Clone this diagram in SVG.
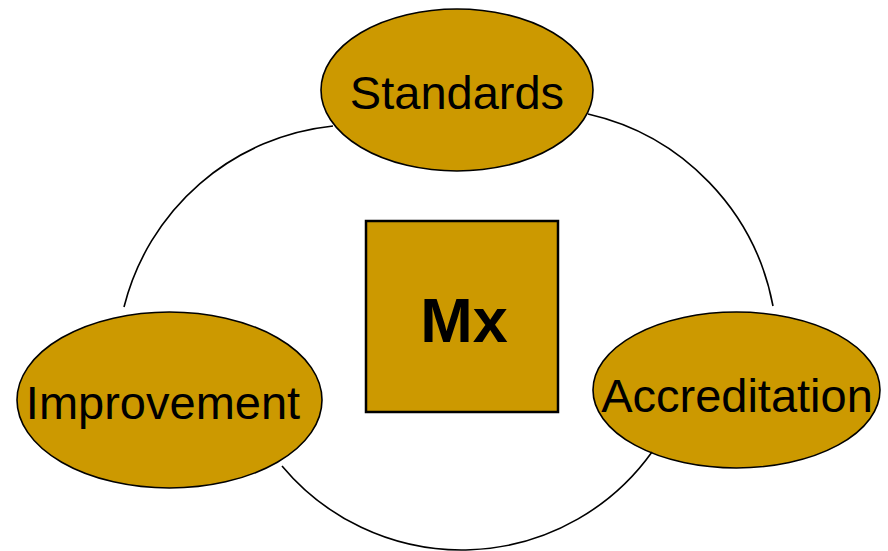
<svg xmlns="http://www.w3.org/2000/svg" width="888" height="551" viewBox="0 0 888 551">
<style>
.node{fill:#CC9900;stroke:#000;stroke-width:1.6}
.box{fill:#CC9900;stroke:#000;stroke-width:2.5}
.lbl{font-family:"Liberation Sans",Arial,sans-serif;font-size:47px;fill:#000;text-anchor:middle}
.mx{font-family:"Liberation Sans",Arial,sans-serif;font-size:63px;font-weight:bold;fill:#000;text-anchor:middle}
.arc{fill:none;stroke:#000;stroke-width:1.6}
</style>
<rect width="888" height="551" fill="#fff"/>
<g id="standards">
<ellipse class="node" cx="457" cy="90" rx="136" ry="81"/>
<text class="lbl" x="457" y="109">Standards</text>
</g>
<g id="improvement">
<ellipse class="node" cx="169.5" cy="400" rx="152.5" ry="88"/>
<text class="lbl" x="163" y="419">Improvement</text>
</g>
<g id="accreditation">
<ellipse class="node" cx="736.5" cy="390" rx="143.5" ry="78"/>
<text class="lbl" x="737" y="412">Accreditation</text>
</g>
<g id="mx">
<rect class="box" x="366" y="221" width="192" height="191"/>
<text class="mx" x="464" y="342">Mx</text>
</g>
<g id="connectors">
<path class="arc" d="M124,307 A241,241 0 0 1 333,126"/>
<path class="arc" d="M588,114 A243,243 0 0 1 773,306"/>
<path class="arc" d="M282,466 A234,234 0 0 0 652,452"/>
</g>
</svg>
